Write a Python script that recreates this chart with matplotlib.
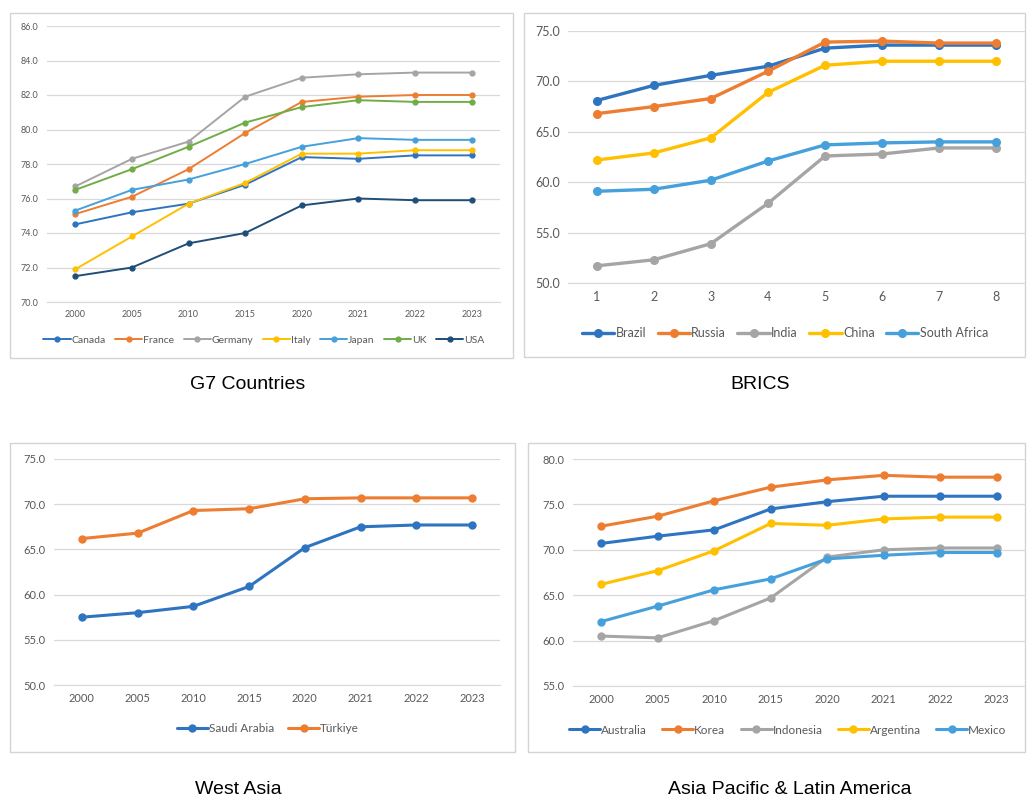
import matplotlib
matplotlib.use("Agg")
import matplotlib.pyplot as plt
from matplotlib.patches import Rectangle

# ---- data ----
years = ['2000', '2005', '2010', '2015', '2020', '2021', '2022', '2023']
brics_x = ['1', '2', '3', '4', '5', '6', '7', '8']

canada = [74.5, 75.2, 75.7, 76.8, 78.4, 78.3, 78.5, 78.5]
france = [75.1, 76.1, 77.7, 79.8, 81.6, 81.9, 82.0, 82.0]
germany = [76.7, 78.3, 79.3, 81.9, 83.0, 83.2, 83.3, 83.3]
italy = [71.9, 73.8, 75.7, 76.9, 78.6, 78.6, 78.8, 78.8]
japan = [75.3, 76.5, 77.1, 78.0, 79.0, 79.5, 79.4, 79.4]
uk = [76.5, 77.7, 79.0, 80.4, 81.3, 81.7, 81.6, 81.6]
usa = [71.5, 72.0, 73.4, 74.0, 75.6, 76.0, 75.9, 75.9]

brazil = [68.1, 69.6, 70.6, 71.5, 73.3, 73.6, 73.6, 73.6]
russia = [66.8, 67.5, 68.3, 71.0, 73.9, 74.0, 73.8, 73.8]
india = [51.7, 52.3, 53.9, 57.9, 62.6, 62.8, 63.4, 63.4]
china = [62.2, 62.9, 64.4, 68.9, 71.6, 72.0, 72.0, 72.0]
south_africa = [59.1, 59.3, 60.2, 62.1, 63.7, 63.9, 64.0, 64.0]

saudi = [57.5, 58.0, 58.7, 60.9, 65.2, 67.5, 67.7, 67.7]
turkiye = [66.2, 66.8, 69.3, 69.5, 70.6, 70.7, 70.7, 70.7]

australia = [70.7, 71.5, 72.2, 74.5, 75.3, 75.9, 75.9, 75.9]
korea = [72.6, 73.7, 75.4, 76.9, 77.7, 78.2, 78.0, 78.0]
indonesia = [60.5, 60.3, 62.2, 64.7, 69.2, 70.0, 70.2, 70.2]
argentina = [66.2, 67.7, 69.9, 72.9, 72.7, 73.4, 73.6, 73.6]
mexico = [62.1, 63.8, 65.6, 66.8, 69.0, 69.4, 69.7, 69.7]

BLUE = '#2E74C0'
ORANGE = '#ED7D31'
GRAY = '#A5A5A5'
YELLOW = '#FFC000'
LBLUE = '#45A0DC'
GREEN = '#70AD47'
NAVY = '#1F4E79'

W, H = 1027, 801
fig = plt.figure(figsize=(W / 100, H / 100), dpi=100)
fig.patch.set_facecolor('white')


def fx(px):
    return px / W


def fy(py):
    return 1 - py / H


def border(x0, y0, x1, y1):
    fig.patches.append(Rectangle((fx(x0), fy(y1)), fx(x1) - fx(x0), fy(y0) - fy(y1),
                                 transform=fig.transFigure, fill=False,
                                 edgecolor='#D4D4D4', linewidth=1.0))


def panel(x0, x1, ytop, ybot, ymax, ymin, step, labels, series, tick_fs, leg_fs, leg_x, leg_y,
          lw, ms, title, title_xy, colsp=1.2):
    ax = fig.add_axes([fx(x0), fy(ybot), fx(x1) - fx(x0), fy(ytop) - fy(ybot)])
    xs = list(range(len(labels)))
    for name, vals, col in series:
        ax.plot(xs, vals, color=col, lw=lw, marker='o', ms=ms, label=name,
                solid_capstyle='round', clip_on=False, zorder=3)
    ax.set_xlim(-0.5, len(labels) - 0.5)
    ax.set_ylim(ymin, ymax)
    ticks = []
    v = ymin
    while v <= ymax + 1e-9:
        ticks.append(v)
        v += step
    ax.set_yticks(ticks)
    ax.set_yticklabels(['%.1f' % t for t in ticks])
    ax.set_xticks(xs)
    ax.set_xticklabels(labels)
    ax.grid(axis='y', color='#D9D9D9', lw=0.9)
    ax.set_axisbelow(True)
    for s in ax.spines.values():
        s.set_visible(False)
    ax.spines['bottom'].set_visible(True)
    ax.spines['bottom'].set_color('#D9D9D9')
    ax.tick_params(length=0, labelsize=tick_fs, colors='#595959', pad=6)
    ax.set_facecolor('none')
    handles, names = ax.get_legend_handles_labels()
    leg = ax.legend(handles, names, loc='center',
                    bbox_to_anchor=(fx(leg_x), fy(leg_y)),
                    bbox_transform=fig.transFigure,
                    ncol=len(series), frameon=False, fontsize=leg_fs,
                    handlelength=2.6, handletextpad=0.1, columnspacing=colsp)
    for t in leg.get_texts():
        t.set_color('#595959')
    fig.text(fx(title_xy[0]), fy(title_xy[1]), title, ha='center', va='center',
             fontsize=14, family='Liberation Sans', color='black')
    return ax


plt.rcParams['font.family'] = ['Lato', 'DejaVu Sans']

border(10, 13, 513, 358)
border(524, 13, 1025, 357)
border(10, 443, 515, 752)
border(528, 443, 1025, 752)

panel(47, 500, 26, 302, 86, 70, 2, years,
      [('Canada', canada, BLUE), ('France', france, ORANGE), ('Germany', germany, GRAY),
       ('Italy', italy, YELLOW), ('Japan', japan, LBLUE), ('UK', uk, GREEN), ('USA', usa, NAVY)],
      6.5, 7.5, 264, 340, 1.4, 3.5, 'G7 Countries', (248, 384), colsp=0.9)

panel(568, 1025, 31, 283, 75, 50, 5, brics_x,
      [('Brazil', brazil, BLUE), ('Russia', russia, ORANGE), ('India', india, GRAY),
       ('China', china, YELLOW), ('South Africa', south_africa, LBLUE)],
      9, 9, 785, 333, 2.4, 5.5, 'BRICS', (760, 384), colsp=0.9)

panel(54, 500, 459, 685, 75, 50, 5, years,
      [('Saudi Arabia', saudi, BLUE), ('Türkiye', turkiye, ORANGE)],
      8, 8.5, 268, 729, 2.2, 5, 'West Asia', (238, 790))

panel(573, 1025, 459, 686, 80, 55, 5, years,
      [('Australia', australia, BLUE), ('Korea', korea, ORANGE), ('Indonesia', indonesia, GRAY),
       ('Argentina', argentina, YELLOW), ('Mexico', mexico, LBLUE)],
      8, 8.5, 788, 730, 2.2, 5, 'Asia Pacific & Latin America', (790, 790), colsp=1.3)

fig.savefig('out.png', dpi=100)
